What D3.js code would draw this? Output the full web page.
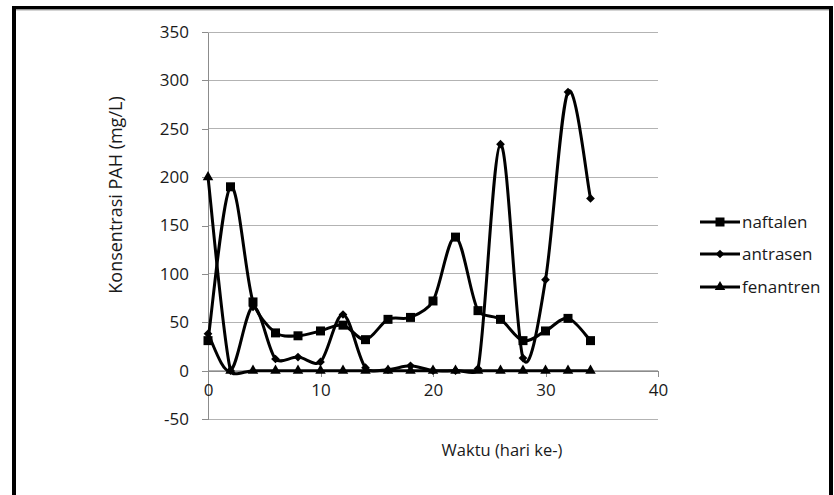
<!DOCTYPE html>
<html>
<head>
<meta charset="utf-8">
<script src="https://cdn.jsdelivr.net/npm/d3@7"></script>
<style>
  body { margin: 0; background: #fff; }
  svg { display: block; }
  text { font-family: "Open Sans", sans-serif; fill: #1a1a1a; }
</style>
</head>
<body>
<div id="chart"></div>
<script>
// data
const days = [0, 2, 4, 6, 8, 10, 12, 14, 16, 18, 20, 22, 24, 26, 28, 30, 32, 34];
const naftalen = [31, 190, 71, 39, 36, 41, 47, 32, 53, 55, 72, 138, 62, 53, 31, 41, 54, 31];
const antrasen = [38, 0, 66, 12, 14, 9, 58, 3, 1, 5, 0, 0, 2, 234, 13, 94, 288, 178];
const fenantren = [200, 0, 0, 0, 0, 0, 0, 0, 0, 0, 0, 0, 0, 0, 0, 0, 0, 0];
const seriesNames = ["naftalen", "antrasen", "fenantren"];
const yTicks = [-50, 0, 50, 100, 150, 200, 250, 300, 350];
const xTicks = [0, 10, 20, 30, 40];

const width = 834;
const height = 495;
const margin = { top: 32, left: 208, bottom: 76, right: 175 };

const svg = d3.select("#chart").append("svg")
  .attr("width", width)
  .attr("height", height);

// frame round the chart (no bottom edge in the picture)
svg.append("line").attr("x1", 12).attr("x2", 833).attr("y1", 7.75).attr("y2", 7.75)
  .attr("stroke", "#000").attr("stroke-width", 3.5);
svg.append("line").attr("x1", 16).attr("x2", 829).attr("y1", 10).attr("y2", 10)
  .attr("stroke", "#aaa").attr("stroke-width", 1);
svg.append("line").attr("x1", 14).attr("x2", 14).attr("y1", 6).attr("y2", height)
  .attr("stroke", "#000").attr("stroke-width", 4);
svg.append("line").attr("x1", 831).attr("x2", 831).attr("y1", 6).attr("y2", height)
  .attr("stroke", "#000").attr("stroke-width", 4);

const x = d3.scaleLinear().domain([0, 40]).range([margin.left, width - margin.right - 1]);
const y = d3.scaleLinear().domain([-50, 350]).range([height - margin.bottom, margin.top]);

// gridlines
svg.append("g")
  .selectAll("line")
  .data(yTicks)
  .enter().append("line")
  .attr("x1", x(0)).attr("x2", x(40))
  .attr("y1", d => y(d)).attr("y2", d => y(d))
  .attr("stroke", "#b3b3b3").attr("stroke-width", 1)
  .attr("shape-rendering", "crispEdges");

const yAxis = svg.append("g")
  .attr("transform", `translate(${x(0)},0)`)
  .call(d3.axisLeft(y).tickValues(yTicks).tickFormat(d => String(d))
    .tickSize(6).tickSizeOuter(0).tickPadding(13));
yAxis.selectAll("path, line").attr("stroke", "#8c8c8c").attr("shape-rendering", "crispEdges");
yAxis.selectAll("text").style("font-size", "17px").attr("fill", "#1a1a1a")
  .style("font-family", "Open Sans");

const xAxis = svg.append("g")
  .attr("transform", `translate(0,${y(0)})`)
  .call(d3.axisBottom(x).tickValues(xTicks).tickFormat(d => String(d))
    .tickSize(6).tickSizeOuter(0).tickPadding(7));
xAxis.selectAll("path, line").attr("stroke", "#8c8c8c").attr("shape-rendering", "crispEdges");
xAxis.selectAll("text").style("font-size", "17px").attr("fill", "#1a1a1a")
  .style("font-family", "Open Sans");

// axis titles
svg.append("text")
  .attr("transform", "translate(122,195) rotate(-90)")
  .attr("text-anchor", "middle")
  .style("font-size", "18px")
  .text("Konsentrasi PAH (mg/L)");

svg.append("text")
  .attr("x", 502).attr("y", 456)
  .attr("text-anchor", "middle")
  .style("font-size", "16.5px")
  .text("Waktu (hari ke-)");

// smoothed line like the spreadsheet one: handles (next - prev)/6, kept shorter than a third of the segment
function smoothPath(pts) {
  const p = d3.path();
  const n = pts.length;
  const tan = i => {
    const a = pts[Math.max(i - 1, 0)], b = pts[Math.min(i + 1, n - 1)];
    return [(b[0] - a[0]) / 6, (b[1] - a[1]) / 6];
  };
  const clamp = (t, len) => {
    const l = Math.hypot(t[0], t[1]);
    const k = l > len ? len / l : 1;
    return [t[0] * k, t[1] * k];
  };
  p.moveTo(pts[0][0], pts[0][1]);
  for (let i = 0; i < n - 1; i++) {
    const a = pts[i], b = pts[i + 1];
    const d = Math.hypot(b[0] - a[0], b[1] - a[1]) / 3;
    const t0 = clamp(tan(i), d), t1 = clamp(tan(i + 1), d);
    p.bezierCurveTo(a[0] + t0[0], a[1] + t0[1], b[0] - t1[0], b[1] - t1[1], b[0], b[1]);
  }
  return p.toString();
}

const symbols = {
  naftalen: { type: d3.symbolSquare, size: 81, rotate: 0 },
  antrasen: { type: d3.symbolSquare, size: 38, rotate: 45 },
  fenantren: { type: d3.symbolTriangle, size: 48, rotate: 0 }
};
const values = { naftalen, antrasen, fenantren };

// draw fenantren first so naftalen sits on top
["fenantren", "antrasen", "naftalen"].forEach(name => {
  const pts = days.map((d, i) => [x(d), y(values[name][i])]);
  const g = svg.append("g");
  g.append("path")
    .attr("d", smoothPath(pts))
    .attr("fill", "none")
    .attr("stroke", "#000")
    .attr("stroke-width", 3);
  const s = symbols[name];
  g.selectAll("path.m").data(pts).enter().append("path")
    .attr("class", "m")
    .attr("d", d3.symbol().type(s.type).size(s.size))
    .attr("transform", d => `translate(${d[0]},${d[1]}) rotate(${s.rotate})`)
    .attr("fill", "#000");
});

// legend
const legendY = [222, 254, 287];
const legend = svg.append("g");
seriesNames.forEach((name, i) => {
  const s = symbols[name];
  legend.append("line")
    .attr("x1", 700).attr("x2", 740)
    .attr("y1", legendY[i]).attr("y2", legendY[i])
    .attr("stroke", "#000").attr("stroke-width", 3);
  legend.append("path")
    .attr("d", d3.symbol().type(s.type).size(s.size))
    .attr("transform", `translate(720,${legendY[i]}) rotate(${s.rotate})`)
    .attr("fill", "#000");
  legend.append("text")
    .attr("x", 742).attr("y", legendY[i])
    .attr("dy", "0.35em")
    .style("font-size", "17px")
    .text(name);
});
</script>
</body>
</html>
